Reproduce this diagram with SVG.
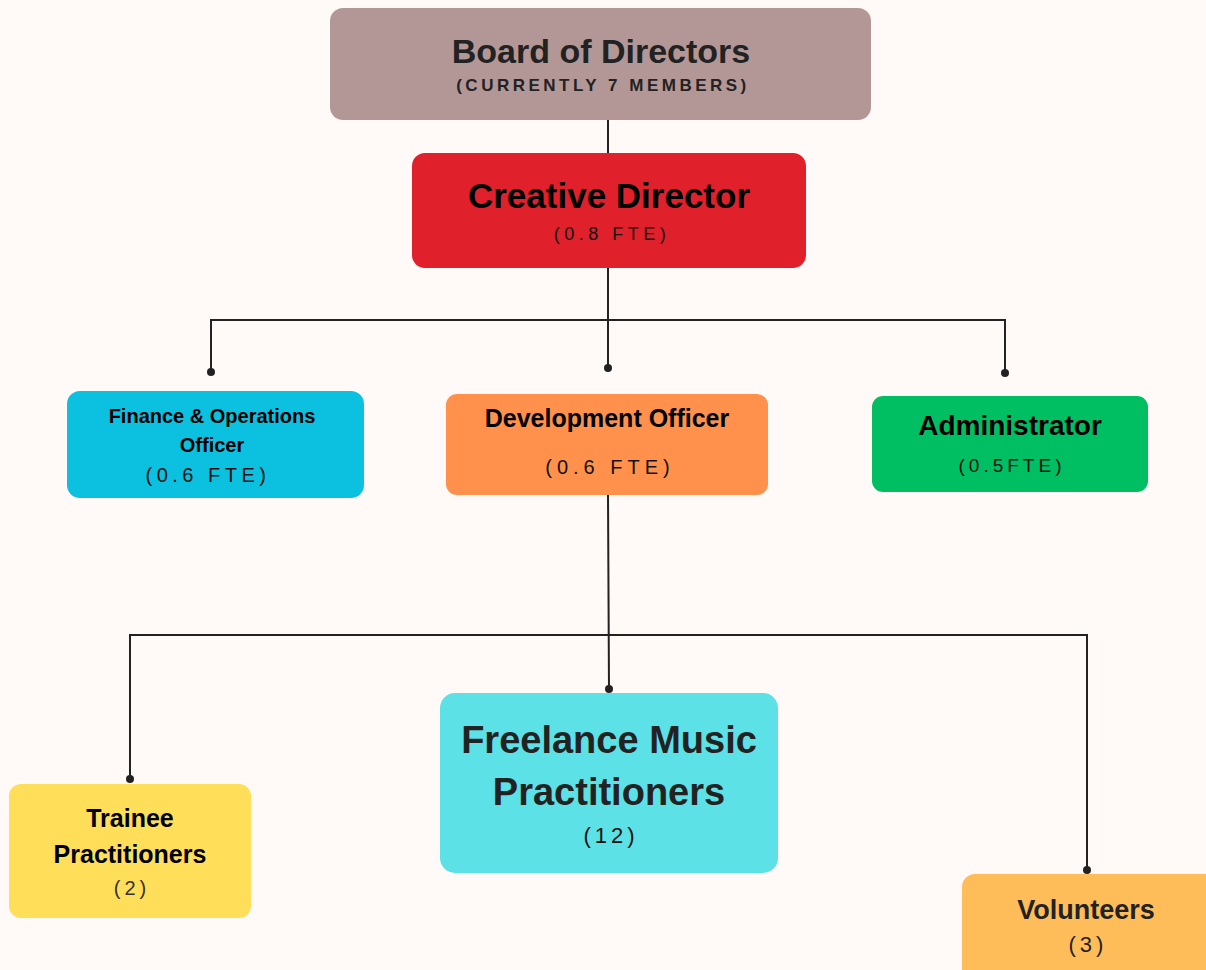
<svg xmlns="http://www.w3.org/2000/svg" width="1206" height="970" viewBox="0 0 1206 970">
<style>
text{font-family:"Liberation Sans",Arial,sans-serif;text-anchor:middle}
.t{font-weight:bold}
.s{font-weight:normal}
.ln{fill:none;stroke:#222;stroke-width:2}
.dot{fill:#222}
</style>
<rect width="1206" height="970" fill="#fffaf7"/>
<g id="connectors">
<path class="ln" d="M608,120V153"/>
<path class="ln" d="M608,263V368M211,372V320H1005V373"/>
<circle class="dot" cx="608" cy="368" r="4"/>
<circle class="dot" cx="211" cy="372" r="4"/>
<circle class="dot" cx="1005" cy="373" r="4"/>
<path class="ln" d="M608,495L609,689M130,779V635H1087V870"/>
<circle class="dot" cx="609" cy="689" r="4"/>
<circle class="dot" cx="130" cy="779" r="4"/>
<circle class="dot" cx="1087" cy="870" r="4"/>
</g>
<g id="board">
<rect x="330" y="8" width="541" height="112" rx="13" fill="#b39797"/>
<text class="t" x="601" y="63" font-size="34" fill="#222">Board of Directors</text>
<text class="t" x="603" y="91" font-size="17" letter-spacing="3.5" fill="#222">(CURRENTLY 7 MEMBERS)</text>
</g>
<g id="creative-director">
<rect x="412" y="153" width="394" height="115" rx="13" fill="#e0202a"/>
<text class="t" x="609" y="208" font-size="35" fill="#000">Creative Director</text>
<text class="s" x="612" y="240" font-size="18" letter-spacing="4.5" fill="#111">(0.8 FTE)</text>
</g>
<g id="finance">
<rect x="67" y="391" width="297" height="107" rx="13" fill="#0cc0df"/>
<text class="t" x="212" y="423" font-size="20" fill="#000">Finance &amp; Operations</text>
<text class="t" x="212" y="452" font-size="20" fill="#000">Officer</text>
<text class="s" x="208" y="482" font-size="20" letter-spacing="4.5" fill="#111">(0.6 FTE)</text>
</g>
<g id="development">
<rect x="446" y="394" width="322" height="101" rx="11" fill="#ff914d"/>
<text class="t" x="607" y="427" font-size="25" fill="#000">Development Officer</text>
<text class="s" x="610" y="474" font-size="20" letter-spacing="5" fill="#111">(0.6 FTE)</text>
</g>
<g id="administrator">
<rect x="872" y="396" width="276" height="96" rx="11" fill="#00bf63"/>
<text class="t" x="1010" y="435" font-size="28" fill="#000">Administrator</text>
<text class="s" x="1012" y="472" font-size="19" letter-spacing="4" fill="#111">(0.5FTE)</text>
</g>
<g id="freelance">
<rect x="440" y="693" width="338" height="180" rx="15" fill="#5ce1e6"/>
<text class="t" x="609" y="753" font-size="38" fill="#222">Freelance Music</text>
<text class="t" x="609" y="805" font-size="38" fill="#222">Practitioners</text>
<text class="s" x="611" y="843" font-size="22" letter-spacing="4" fill="#111">(12)</text>
</g>
<g id="trainee">
<rect x="9" y="784" width="242" height="134" rx="12" fill="#ffde59"/>
<text class="t" x="130" y="827" font-size="25" fill="#000">Trainee</text>
<text class="t" x="130" y="863" font-size="25" fill="#000">Practitioners</text>
<text class="s" x="132" y="895" font-size="20" letter-spacing="4" fill="#333">(2)</text>
</g>
<g id="volunteers">
<rect x="962" y="874" width="260" height="110" rx="13" fill="#ffbd59"/>
<text class="t" x="1086" y="919" font-size="27" fill="#222">Volunteers</text>
<text class="s" x="1088" y="952" font-size="22" letter-spacing="4" fill="#222">(3)</text>
</g>
</svg>
